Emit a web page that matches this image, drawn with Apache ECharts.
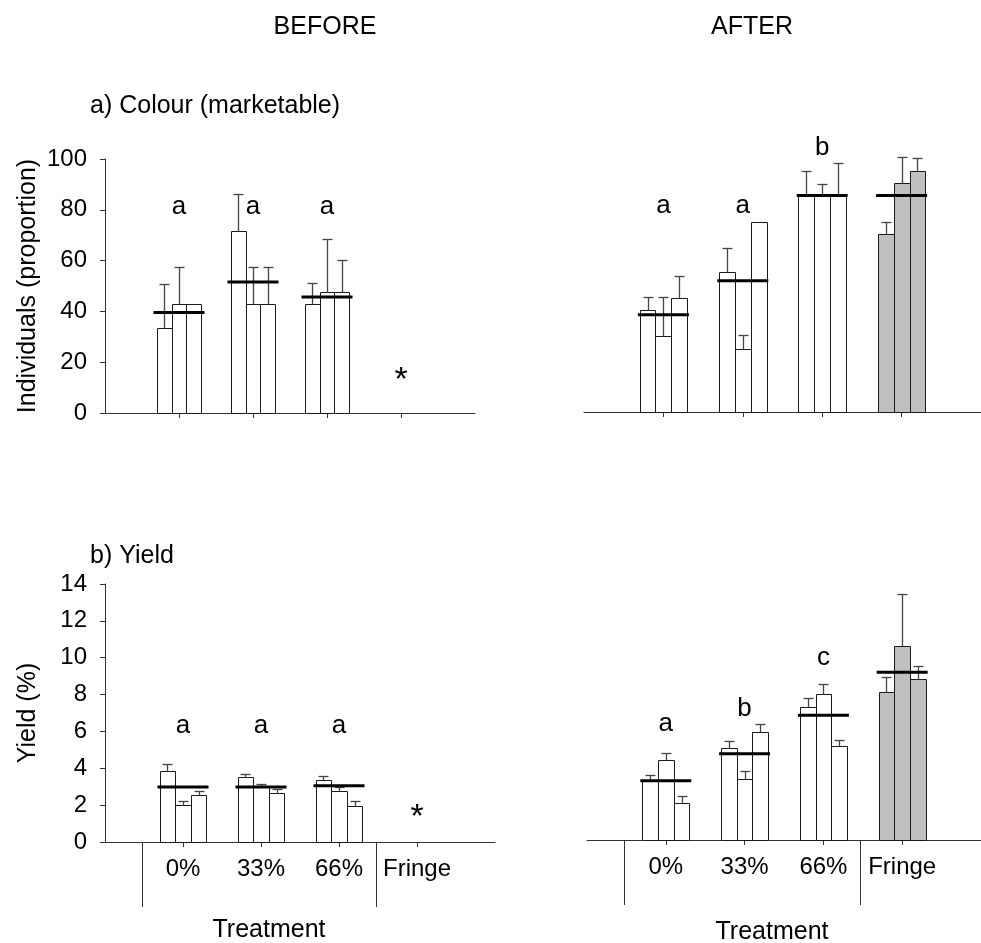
<!DOCTYPE html>
<html><head><meta charset="utf-8">
<script src="https://cdn.jsdelivr.net/npm/echarts@6/dist/echarts.min.js"></script>
<style>html,body{margin:0;padding:0;background:#fff}#c{width:981px;height:943px}</style>
</head><body><div id="c"></div><script>
// ---------------- data ----------------
const categories = ['0%', '33%', '66%', 'Fringe'];

// a) Colour (marketable), BEFORE
const colourBeforeBars = [[33.3, 42.9, 42.9], [71.7, 42.9, 42.9], [42.9, 47.8, 47.8]];
const colourBeforeErr  = [[50.7, 57.4, null], [86.1, 57.4, 57.4], [51.1, 68.5, 60.4]];
const colourBeforeMean = [39.6, 51.6, 45.7];
const colourBeforeLetters = ['a', 'a', 'a'];
const colourBeforeLetterY = [81, 81, 81];

// a) Colour (marketable), AFTER
const colourAfterBars = [[40, 30, 45], [55, 25, 75], [85, 85, 85], [70, 90, 95]];
const colourAfterErr  = [[45.2, 45.2, 53.7], [64.7, 30.2, null], [94.8, 89.9, 97.9], [74.9, 100.3, 99.9]];
const colourAfterMean = [38.3, 51.7, 85.2, 85.2];
const colourAfterLetters = ['a', 'a', 'b'];
const colourAfterLetterY = [81, 81, 104];

// b) Yield, BEFORE
const yieldBeforeBars = [[3.85, 2.01, 2.53], [3.52, 2.98, 2.66], [3.36, 2.78, 1.97]];
const yieldBeforeErr  = [[4.23, 2.2, 2.77], [3.68, 3.17, 2.89], [3.56, 2.98, 2.2]];
const yieldBeforeMean = [2.98, 2.98, 3.05];
const yieldBeforeLetters = ['a', 'a', 'a'];
const yieldBeforeLetterY = [6.33, 6.33, 6.33];

// b) Yield, AFTER
const yieldAfterBars = [[3.24, 4.34, 1.99], [5.01, 3.33, 5.84], [7.23, 7.94, 5.08], [8.01, 10.54, 8.74]];
const yieldAfterErr  = [[3.53, 4.72, 2.39], [5.37, 3.74, 6.29], [7.72, 8.45, 5.41], [8.86, 13.36, 9.44]];
const yieldAfterMean = [3.22, 4.68, 6.77, 9.1];
const yieldAfterLetters = ['a', 'b', 'c'];
const yieldAfterLetterY = [6.28, 7.1, 9.9];

// no data for Fringe before (marked with *)
const missingMark = '*';
const colourMissingY = 12.8;
const yieldMissingY = 1.3;

// ---------------- chart ----------------
const FONT = "'Liberation Sans', Arial, sans-serif";
const chart = echarts.init(document.getElementById('c'), null, {renderer: 'canvas'});

function barData(bars, errs) {
  const out = [];
  bars.forEach((g, gi) => g.forEach((v, ri) => {
    const e = errs[gi][ri];
    out.push([gi + 1, ri, v, e == null ? v : e]);
  }));
  return out;
}
function renderBars(params, api) {
  const cat = api.value(0), rep = api.value(1), val = api.value(2), err = api.value(3);
  const xc = cat + (rep - 1) * 0.2;
  const a = api.coord([xc - 0.1, 0]);
  const b = api.coord([xc + 0.1, val]);
  const x0 = Math.round(a[0]) + 0.5, x1 = Math.round(b[0]) + 0.5;
  const y0 = Math.round(a[1]) + 0.5, y1 = Math.round(b[1]) + 0.5;
  const children = [{
    type: 'rect',
    shape: {x: x0, y: y1, width: x1 - x0, height: y0 - y1},
    style: {fill: cat === 4 ? '#c0c0c0' : '#ffffff', stroke: '#1a1a1a', lineWidth: 1}
  }];
  if (err > val) {
    const t = api.coord([xc, err]);
    const xm = Math.round(t[0]) + 0.5, yt = Math.round(t[1]) + 0.5;
    children.push({type: 'line', shape: {x1: xm, y1: yt, x2: xm, y2: y1}, style: {stroke: '#444', lineWidth: 1.3}});
    children.push({type: 'line', shape: {x1: xm - 5, y1: yt, x2: xm + 5, y2: yt}, style: {stroke: '#444', lineWidth: 1.3}});
  }
  return {type: 'group', children};
}
function renderMean(params, api) {
  const p = api.coord([api.value(0), api.value(1)]);
  return {type: 'line', shape: {x1: p[0] - 25.5, y1: p[1], x2: p[0] + 25.5, y2: p[1]},
          style: {stroke: '#000', lineWidth: 3}};
}
function renderText(params, api) {
  const p = api.coord([api.value(0), api.value(1)]);
  const s = String(api.value(2));
  const size = s === missingMark ? 34 : 26;
  return {type: 'text', x: p[0], y: p[1],
          style: {text: s, font: size + 'px ' + FONT, fill: '#000', align: 'center', verticalAlign: 'middle'}};
}
function renderSep(params, api) {
  const p = api.coord([api.value(0), 0]);
  const x = Math.round(p[0]) + 0.5;
  return {type: 'line', shape: {x1: x, y1: p[1], x2: x, y2: p[1] + 65}, style: {stroke: '#333', lineWidth: 1}};
}

const grids = [
  {left: 105, top: 159, width: 370, height: 254},
  {left: 584, top: 158, width: 404, height: 254},
  {left: 105, top: 584, width: 390, height: 258},
  {left: 587, top: 582, width: 404, height: 258}
];

function xAx(gi, showLabels) {
  return {
    gridIndex: gi, type: 'value', min: 0, max: 5, interval: 1,
    axisLine: {show: true, onZero: false, lineStyle: {color: '#333', width: 1}},
    axisTick: {show: true, customValues: [1, 2, 3, 4], length: 5, lineStyle: {color: '#333'}},
    axisLabel: {show: showLabels, customValues: [1, 2, 3, 4], formatter: v => categories[Math.round(v) - 1] || '',
                fontSize: 24, color: '#000', margin: 15, fontFamily: FONT},
    splitLine: {show: false}
  };
}
function yAxLeft(gi, max, interval, name) {
  return {
    gridIndex: gi, type: 'value', min: 0, max: max, interval: interval,
    axisLine: {show: true, lineStyle: {color: '#333', width: 1}},
    axisTick: {show: true, length: 5, lineStyle: {color: '#333'}},
    axisLabel: {fontSize: 24, color: '#000', margin: 18, fontFamily: FONT},
    splitLine: {show: false},
    name: name, nameLocation: 'middle', nameGap: 64,
    nameTextStyle: {fontSize: 25, color: '#000', fontFamily: FONT}
  };
}
function yAxRight(gi, max) {
  return {gridIndex: gi, type: 'value', min: 0, max: max, show: false};
}

const panels = [
  {bars: colourBeforeBars, err: colourBeforeErr, mean: colourBeforeMean, letters: colourBeforeLetters, ly: colourBeforeLetterY, missing: colourMissingY, sep: false},
  {bars: colourAfterBars, err: colourAfterErr, mean: colourAfterMean, letters: colourAfterLetters, ly: colourAfterLetterY, missing: null, sep: false},
  {bars: yieldBeforeBars, err: yieldBeforeErr, mean: yieldBeforeMean, letters: yieldBeforeLetters, ly: yieldBeforeLetterY, missing: yieldMissingY, sep: true},
  {bars: yieldAfterBars, err: yieldAfterErr, mean: yieldAfterMean, letters: yieldAfterLetters, ly: yieldAfterLetterY, missing: null, sep: true}
];

const series = [];
panels.forEach((p, i) => {
  const ax = {xAxisIndex: i, yAxisIndex: i};
  series.push(Object.assign({type: 'custom', renderItem: renderBars, data: barData(p.bars, p.err), clip: false, z: 2}, ax));
  series.push(Object.assign({type: 'custom', renderItem: renderMean, data: p.mean.map((m, k) => [k + 1, m]), clip: false, z: 3}, ax));
  const txt = p.letters.map((l, k) => [k + 1, p.ly[k], l]);
  if (p.missing != null) txt.push([4, p.missing, missingMark]);
  series.push(Object.assign({type: 'custom', renderItem: renderText, data: txt, clip: false, z: 4}, ax));
  if (p.sep) series.push(Object.assign({type: 'custom', renderItem: renderSep, data: [[0.47], [3.47]], clip: false, z: 1}, ax));
});

const txtStyle = (s) => ({font: '25px ' + FONT, fill: '#000', text: s});
chart.setOption({
  animation: false,
  backgroundColor: '#fff',
  grid: grids,
  xAxis: [xAx(0, false), xAx(1, false), xAx(2, true), xAx(3, true)],
  yAxis: [yAxLeft(0, 100, 20, 'Individuals (proportion)'), yAxRight(1, 100),
          yAxLeft(2, 14, 2, 'Yield (%)'), yAxRight(3, 14)],
  series: series,
  graphic: [
    {type: 'text', x: 325, y: 27, style: Object.assign(txtStyle('BEFORE'), {align: 'center', verticalAlign: 'middle'})},
    {type: 'text', x: 752, y: 27, style: Object.assign(txtStyle('AFTER'), {align: 'center', verticalAlign: 'middle'})},
    {type: 'text', x: 90, y: 106, style: Object.assign(txtStyle('a) Colour (marketable)'), {align: 'left', verticalAlign: 'middle'})},
    {type: 'text', x: 90, y: 556, style: Object.assign(txtStyle('b) Yield'), {align: 'left', verticalAlign: 'middle'})},
    {type: 'text', x: 269, y: 930, style: Object.assign(txtStyle('Treatment'), {align: 'center', verticalAlign: 'middle'})},
    {type: 'text', x: 772, y: 932, style: Object.assign(txtStyle('Treatment'), {align: 'center', verticalAlign: 'middle'})}
  ]
});
</script></body></html>
